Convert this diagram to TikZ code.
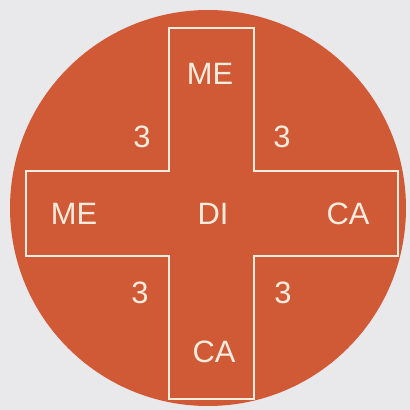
\documentclass[tikz,border=0pt]{standalone}
\usepackage{fontspec}
\setmainfont{Liberation Sans}
\definecolor{bgc}{RGB}{233,233,235}
\definecolor{disc}{RGB}{208,90,54}
\definecolor{linec}{RGB}{246,236,222}
\begin{document}
\begin{tikzpicture}[x=1bp,y=-1bp,
  lbl/.style={text=linec,font=\fontsize{31}{31}\selectfont,inner sep=0pt,anchor=center},
  crossline/.style={draw=linec,line width=1.6bp,line join=miter}]
\fill[bgc] (0,0) rectangle (410,410);
\useasboundingbox (0,0) rectangle (410,410);
\fill[disc] (208,208) circle[radius=198];
\draw[crossline] (169,28) -- (254,28) -- (254,171) -- (398,171) -- (398,256) -- (254,256)
  -- (254,399) -- (169,399) -- (169,256) -- (26,256) -- (26,171) -- (169,171) -- cycle;
\node[lbl] (mt) at (210,74) {ME};
\node[lbl] (ml) at (74,214) {ME};
\node[lbl] (di) at (213,214) {DI};
\node[lbl] (cr) at (348,214) {CA};
\node[lbl] (cb) at (214,352) {CA};
\node[lbl] (t1) at (142,137) {3};
\node[lbl] (t2) at (282,137) {3};
\node[lbl] (t3) at (140,293) {3};
\node[lbl] (t4) at (283,293) {3};
\end{tikzpicture}
\end{document}
